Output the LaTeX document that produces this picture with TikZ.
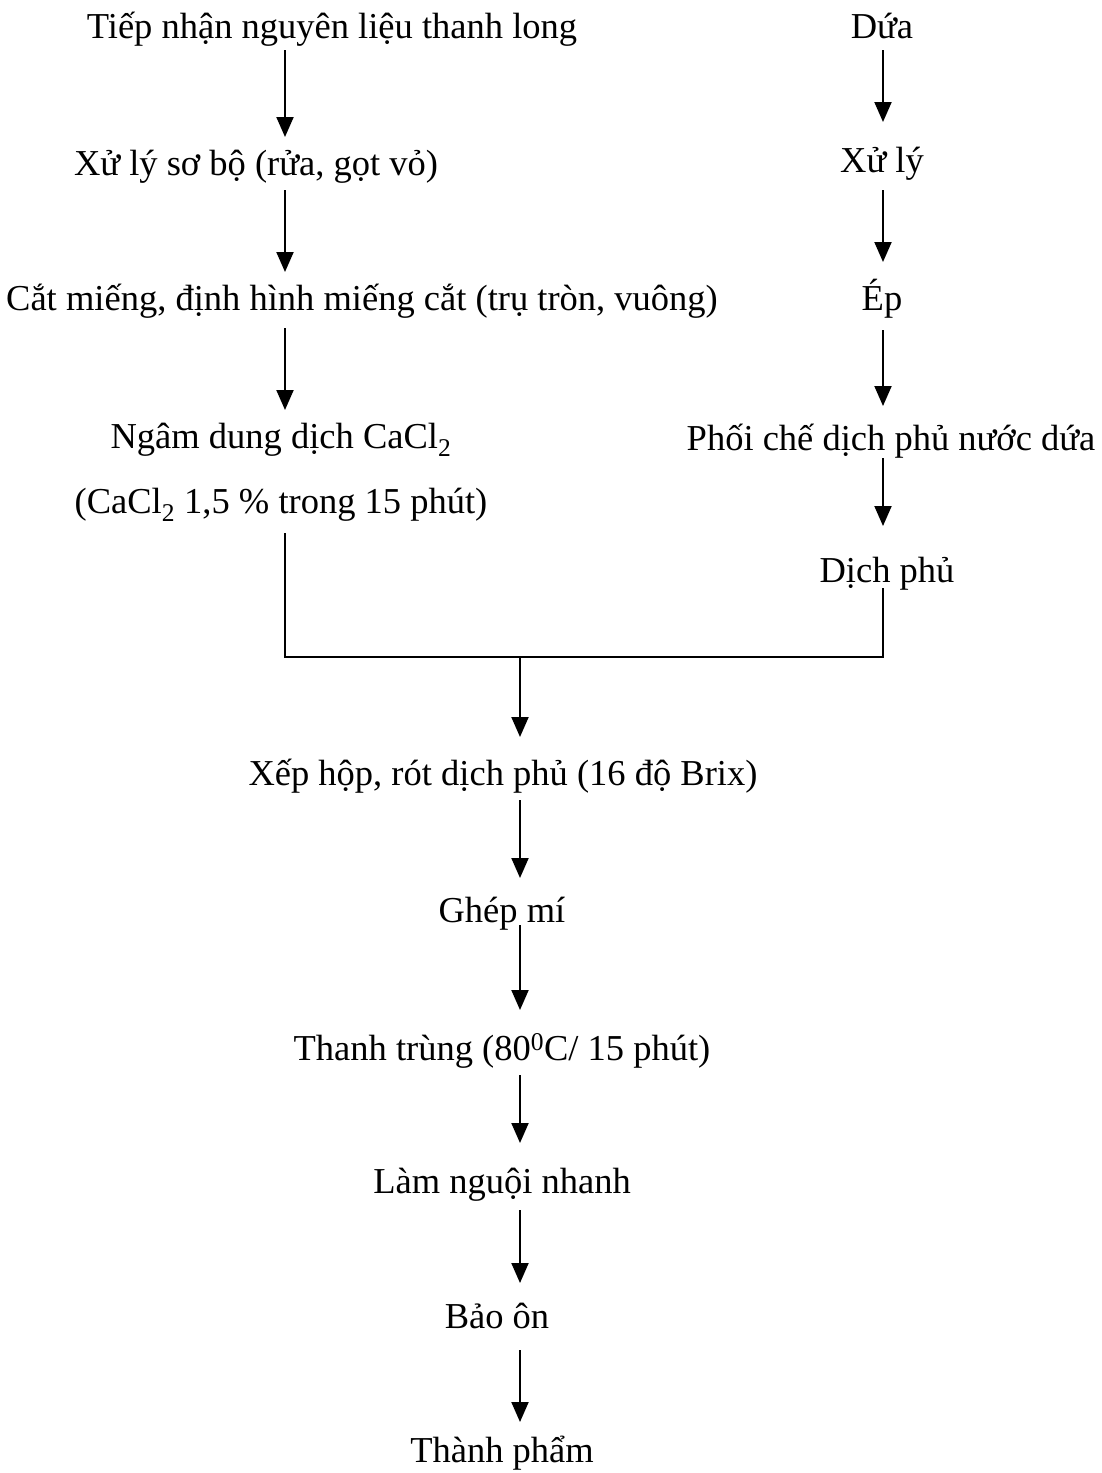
\documentclass[tikz,border=0pt]{standalone}
\usepackage{fontspec}
\setmainfont{Liberation Serif}
\usetikzlibrary{arrows.meta,calc}
\begin{document}
\begin{tikzpicture}[x=1pt,y=-1pt,
    every node/.style={font=\fontsize{36.5}{44}\selectfont,inner sep=0pt,anchor=base},
    flow/.style={-{Triangle[width=17pt,length=20pt]},line width=2pt},
    joinline/.style={line width=2pt}]
  \useasboundingbox (0,0) rectangle (1102,1473);
  \coordinate (colL) at (285,0);
  \coordinate (colR) at (883,0);
  \coordinate (colM) at (520,0);
  % left branch: thanh long
  \draw
    (332,38) node (tiep){Tiếp nhận nguyên liệu thanh long}
    (256,175) node (xuly){Xử lý sơ bộ (rửa, gọt vỏ)}
    (362,310) node (cat){Cắt miếng, định hình miếng cắt (trụ tròn, vuông)}
    (281,448) node (ngam){Ngâm dung dịch CaCl\textsubscript{2}}
    (281,513) node (ngamcd){(CaCl\textsubscript{2} 1,5 \% trong 15 phút)};
  % right branch: dua
  \draw
    (882,38) node (dua){Dứa}
    (882,172) node (xulyd){Xử lý}
    (882,310) node (ep){Ép}
    (891,450) node (phoiche){Phối chế dịch phủ nước dứa}
    (887,582) node (dichphu){Dịch phủ};
  % common line
  \draw
    (503,785) node (xep){Xếp hộp, rót dịch phủ (16 độ Brix)}
    (502,922) node (ghep){Ghép mí}
    (502,1060) node (thanhtrung){Thanh trùng (80\textsuperscript{0}C/ 15 phút)}
    (502,1193) node (lamnguoi){Làm nguội nhanh}
    (497,1328) node (baoon){Bảo ôn}
    (502,1462) node (thanhpham){Thành phẩm};
  \begin{scope}[flow]
    \draw ($(tiep.base -| colL)+(0,12)$) to ($(xuly.base -| colL)+(0,-38)$);
    \draw ($(xuly.base -| colL)+(0,15)$) to ($(cat.base -| colL)+(0,-38)$);
    \draw ($(cat.base -| colL)+(0,18)$) to ($(ngam.base -| colL)+(0,-38)$);
    \draw ($(dua.base -| colR)+(0,12)$) to ($(xulyd.base -| colR)+(0,-50)$);
    \draw ($(xulyd.base -| colR)+(0,18)$) to ($(ep.base -| colR)+(0,-48)$);
    \draw ($(ep.base -| colR)+(0,20)$) to ($(phoiche.base -| colR)+(0,-44)$);
    \draw ($(phoiche.base -| colR)+(0,8)$) to ($(dichphu.base -| colR)+(0,-56)$);
  \end{scope}
  \coordinate (join) at (520,657);
  \draw[joinline] ($(ngamcd.base -| colL)+(0,20)$) |- (join)
    -| ($(dichphu.base -| colR)+(0,6)$);
  \begin{scope}[flow]
    \draw (join) to ($(xep.base -| colM)+(0,-48)$);
    \draw ($(xep.base -| colM)+(0,15)$) to ($(ghep.base -| colM)+(0,-44)$);
    \draw ($(ghep.base -| colM)+(0,3)$) to ($(thanhtrung.base -| colM)+(0,-50)$);
    \draw ($(thanhtrung.base -| colM)+(0,15)$) to ($(lamnguoi.base -| colM)+(0,-50)$);
    \draw ($(lamnguoi.base -| colM)+(0,17)$) to ($(baoon.base -| colM)+(0,-45)$);
    \draw ($(baoon.base -| colM)+(0,22)$) to ($(thanhpham.base -| colM)+(0,-40)$);
  \end{scope}
\end{tikzpicture}
\end{document}
